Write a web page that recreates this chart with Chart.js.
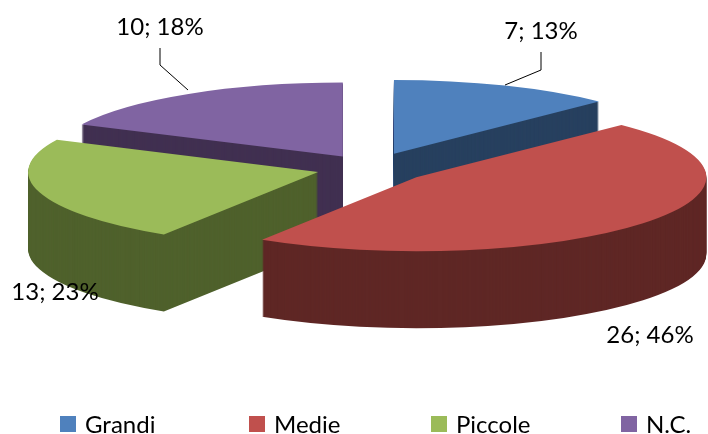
<!DOCTYPE html>
<html>
<head>
<meta charset="utf-8">
<style>
  html, body { margin: 0; padding: 0; background: #fff; }
  canvas { display: block; }
</style>
</head>
<body>
<canvas id="graph_pie" width="708" height="434"></canvas>
<script src="https://cdn.jsdelivr.net/npm/chart.js@4"></script>
<script>
const categories = ["Grandi", "Medie", "Piccole", "N.C."];
const values = [7, 26, 13, 10];
const topColors = ["#4F81BD", "#C0504D", "#9BBB59", "#8064A2"];
const sideColors = ["#27405F", "#5F2725", "#4F612C", "#413051"];

// back slices first so the front ones cover them
const drawOrder = [3, 0, 2, 1];
const explode = [60, 58, 55, 53];
const tilt = 0.255;
const depth = 77;
const fontName = "Lato, 'Open Sans', sans-serif";

const labelSpots = [
  {x: 541, y: 31},
  {x: 650, y: 335},
  {x: 55, y: 292},
  {x: 160, y: 27}
];
const leaders = [
  [[541, 52], [541, 70], [505, 85]],
  [[160, 48], [160, 65], [188, 90]]
];
const legendBoxX = [60, 249, 431, 621];

const ctx_pie = document.getElementById("graph_pie").getContext("2d");

const pie3d = {
  id: "pie3d",
  beforeDatasetsDraw(chart) {
    const ctx = chart.ctx;
    const arcs = chart.getDatasetMeta(0).data;
    const cy = arcs[0].y;

    drawOrder.forEach(i => {
      const arc = arcs[i];
      const saved = arc.options;
      const mid = (arc.startAngle + arc.endAngle) / 2;
      for (let d = depth; d >= 0; d--) {
        ctx.save();
        ctx.translate(0, d + cy);
        ctx.scale(1, tilt);
        ctx.translate(Math.cos(mid) * explode[i], Math.sin(mid) * explode[i] - cy);
        arc.options = {...saved, backgroundColor: d === 0 ? topColors[i] : sideColors[i]};
        arc.draw(ctx);
        ctx.restore();
      }
      arc.options = saved;
    });
    return false;
  },
  afterDraw(chart) {
    const ctx = chart.ctx;
    const total = values.reduce((a, b) => a + b, 0);

    ctx.save();
    ctx.strokeStyle = "#000";
    ctx.lineWidth = 1;
    leaders.forEach(pts => {
      ctx.beginPath();
      pts.forEach((p, i) => i ? ctx.lineTo(p[0], p[1]) : ctx.moveTo(p[0], p[1]));
      ctx.stroke();
    });

    ctx.fillStyle = "#000";
    ctx.font = "24px " + fontName;
    ctx.textAlign = "center";
    ctx.textBaseline = "middle";
    values.forEach((v, i) => {
      const pct = Math.round(v / total * 100);
      ctx.fillText(v + "; " + pct + "%", labelSpots[i].x, labelSpots[i].y);
    });

    ctx.textAlign = "left";
    categories.forEach((name, i) => {
      ctx.fillStyle = topColors[i];
      ctx.fillRect(legendBoxX[i], 416, 16, 16);
      ctx.fillStyle = "#000";
      ctx.fillText(name, legendBoxX[i] + 25, 425);
    });
    ctx.restore();
  }
};

new Chart(ctx_pie, {
  type: "pie",
  data: {
    labels: categories,
    datasets: [{
      data: values,
      backgroundColor: topColors,
      borderWidth: 0,
      clip: false
    }]
  },
  options: {
    responsive: false,
    animation: false,
    radius: 290,
    layout: {padding: {left: 34, bottom: 98}},
    plugins: {
      legend: {display: false},
      tooltip: {enabled: false}
    }
  },
  plugins: [pie3d]
});
</script>
</body>
</html>
